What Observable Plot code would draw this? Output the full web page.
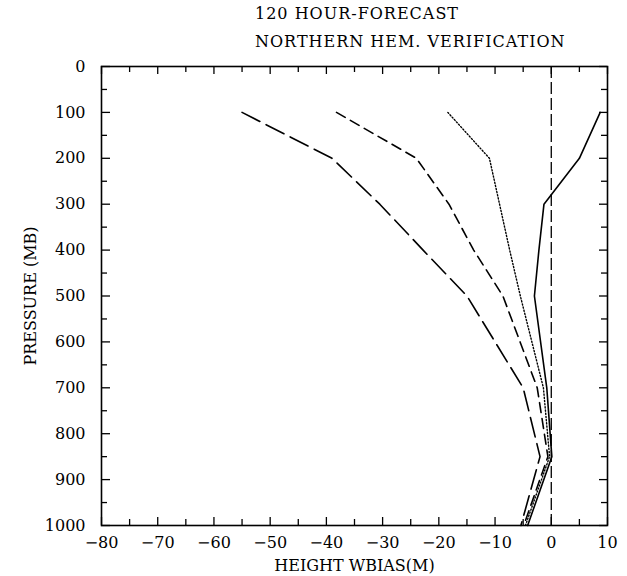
<!DOCTYPE html>
<html><head><meta charset="utf-8">
<script src="https://cdn.jsdelivr.net/npm/d3@7"></script>
<script src="https://cdn.jsdelivr.net/npm/@observablehq/plot@0.6"></script>
<style>
body{margin:0;background:#fff;font-family:"DejaVu Serif",serif;color:#000}
#t{padding-left:255px;height:56px;font-size:16px;letter-spacing:1px}
#t div{line-height:28px;white-space:nowrap}
</style></head><body>
<div id="t"><div>120 HOUR-FORECAST</div><div>NORTHERN HEM. VERIFICATION</div></div>
<div id="c"></div>
<script>
// pressure levels (mb)
const levels = [100, 200, 300, 400, 500, 700, 850, 1000];
// height bias (m) for each curve
const longDash   = [-55, -39, -30.5, -22.8, -15, -5, -2, -5.4];
const mediumDash = [-38.2, -24, -18.2, -13.8, -8.6, -2.5, -0.6, -4.9];
const dotted     = [-18.4, -11, -9.2, -7.4, -5.5, -1.4, -0.3, -4.6];
const solid      = [8.7, 5, -1.3, -2.2, -3, -0.8, 0.1, -4.2];
// axis ticks
const xMajor = [-80, -70, -60, -50, -40, -30, -20, -10, 0, 10];
const xMinor = [-75, -65, -55, -45, -35, -25, -15, -5, 5];
const yMajor = [0, 100, 200, 300, 400, 500, 600, 700, 800, 900, 1000];
const yMinor = [50, 150, 250, 350, 450, 550, 650, 750, 850, 950];
const xTitle = "HEIGHT WBIAS(M)";
const yTitle = "PRESSURE (MB)";

const W = 627, H = 520, mL = 101, mR = 20, mT = 10, mB = 51;
const iw = W - mL - mR, ih = H - mT - mB;
const fmt = d => d < 0 ? "\u2212" + (-d) : String(d);
const rows = arr => levels.map((p, i) => ({p, v: arr[i]}));
const lineOpts = {x: "v", y: "p", stroke: "black", strokeWidth: 1.6};

const chart = Plot.plot({
  width: W, height: H,
  marginLeft: mL, marginRight: mR, marginTop: mT, marginBottom: mB,
  style: {fontFamily: "DejaVu Serif", fontSize: "16px", background: "white", color: "black"},
  x: {domain: [-80, 10]},
  y: {domain: [0, 1000], reverse: true},
  marks: [
    Plot.ruleX([0], {stroke: "black", strokeWidth: 1.3, strokeDasharray: "12,4"}),
    Plot.line(rows(longDash), {...lineOpts, strokeDasharray: "20,7"}),
    Plot.line(rows(mediumDash), {...lineOpts, strokeDasharray: "10,6"}),
    Plot.line(rows(dotted), {...lineOpts, strokeWidth: 1.4, strokeDasharray: "1.2,2"}),
    Plot.line(rows(solid), {...lineOpts}),
    Plot.tickX(xMajor, {insetTop: ih - 8, stroke: "black", strokeWidth: 1.3}),
    Plot.tickX(xMinor, {insetTop: ih - 6, stroke: "black", strokeWidth: 1.3}),
    Plot.tickX(xMajor, {insetBottom: ih - 8, stroke: "black", strokeWidth: 1.3}),
    Plot.tickX(xMinor, {insetBottom: ih - 6, stroke: "black", strokeWidth: 1.3}),
    Plot.tickY(yMajor, {insetRight: iw - 9, stroke: "black", strokeWidth: 1.3}),
    Plot.tickY(yMinor, {insetRight: iw - 6, stroke: "black", strokeWidth: 1.3}),
    Plot.tickY(yMajor, {insetLeft: iw - 8, stroke: "black", strokeWidth: 1.3}),
    Plot.tickY(yMinor, {insetLeft: iw - 6, stroke: "black", strokeWidth: 1.3}),
    Plot.frame({stroke: "black", strokeWidth: 1.6}),
    Plot.axisX(xMajor, {tickSize: 0, tickPadding: 11, tickFormat: fmt, label: null}),
    Plot.axisY(yMajor, {tickSize: 0, tickPadding: 16, tickFormat: d => String(d), label: null}),
    Plot.text([xTitle], {frameAnchor: "bottom", lineAnchor: "middle", textAnchor: "middle", dy: 40, text: d => d, fill: "black"}),
    Plot.text([yTitle], {frameAnchor: "left", lineAnchor: "middle", textAnchor: "middle", dx: -71, rotate: -90, text: d => d, fill: "black"})
  ]
});
document.getElementById("c").appendChild(chart);
</script>
</body></html>
